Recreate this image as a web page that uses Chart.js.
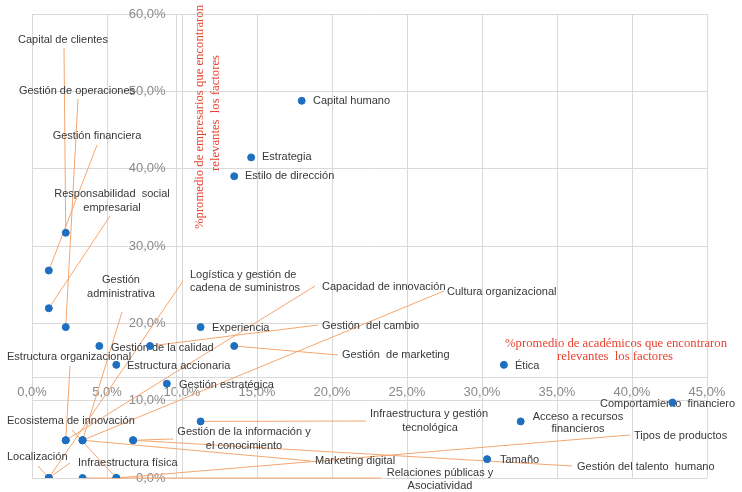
<!DOCTYPE html>
<html><head><meta charset="utf-8">
<style>html,body{margin:0;padding:0;background:#fff}canvas{display:block}</style>
<script src="https://cdn.jsdelivr.net/npm/chart.js@4.4.1/dist/chart.umd.min.js"></script>
</head><body>
<canvas id="c" width="742" height="492"></canvas>
<script>
// ---- DATA ----
const factors = [
  'Capital humano','Estrategia','Estilo de dirección','Capital de clientes','Gestión financiera',
  'Responsabilidad social empresarial','Gestión de operaciones','Experiencia','Gestión de la calidad',
  'Gestión del cambio','Gestión de marketing','Estructura accionaria','Ética','Gestión estratégica',
  'Comportamiento financiero','Infraestructura y gestión tecnológica','Acceso a recursos financieros',
  'Capacidad de innovación','Estructura organizacional','Gestión administrativa','Cultura organizacional',
  'Marketing digital','Gestión de la información y el conocimiento','Gestión del talento humano','Tamaño',
  'Logística y gestión de cadena de suministros','Localización','Infraestructura física',
  'Relaciones públicas y Asociatividad','Tipos de productos','Ecosistema de innovación'
];
// % promedio de académicos (eje X)
const academicos = [
  17.98, 14.61, 13.48, 2.25, 1.12,
  1.12, 2.25, 11.24, 4.49,
  7.87, 13.48, 5.62, 31.46, 8.99,
  42.70, 11.24, 32.58,
  2.25, 2.25, 3.37, 3.37,
  3.37, 6.74, 6.74, 30.34,
  1.12, 1.12, 1.12,
  3.37, 5.62, 5.62
];
// % promedio de empresarios (eje Y)
const empresarios = [
  48.78, 41.46, 39.02, 31.71, 26.83,
  21.95, 19.51, 19.51, 17.07,
  17.07, 17.07, 14.63, 14.63, 12.20,
  9.76, 7.32, 7.32,
  4.88, 4.88, 4.88, 4.88,
  4.88, 4.88, 4.88, 2.44,
  0, 0, 0,
  0, 0, 0
];
const xTicks = [0, 5, 10, 15, 20, 25, 30, 35, 40, 45];
const yTicks = [0, 10, 20, 30, 40, 50, 60];
const xTitle = ['%promedio de académicos que encontraron', 'relevantes  los factores'];
const yTitle = ['%promedio de empresarios que encontraron', 'relevantes  los factores'];

// axes cross at the averages
const meanX = academicos.reduce((a, b) => a + b, 0) / academicos.length;
const meanY = empresarios.reduce((a, b) => a + b, 0) / empresarios.length;

// ---- LABEL LAYOUT (pixel placement of annotation text and leader ends) ----
const labelLayout = {
  'Capital humano': {lines:['Capital humano'], at:[[313,101]], align:'left'},
  'Estrategia': {lines:['Estrategia'], at:[[262,157]], align:'left'},
  'Estilo de dirección': {lines:['Estilo de dirección'], at:[[245,176]], align:'left'},
  'Capital de clientes': {lines:['Capital de clientes'], at:[[63,40]], align:'center', lead:[64,48]},
  'Gestión de operaciones': {lines:['Gestión de operaciones'], at:[[77,91]], align:'center', lead:[78,99]},
  'Gestión financiera': {lines:['Gestión financiera'], at:[[97,136]], align:'center', lead:[97,145]},
  'Responsabilidad social empresarial': {lines:['Responsabilidad  social','empresarial'], at:[[112,194],[112,208]], align:'center', lead:[110,216]},
  'Gestión administrativa': {lines:['Gestión','administrativa'], at:[[121,280],[121,294]], align:'center', lead:[122,312]},
  'Logística y gestión de cadena de suministros': {lines:['Logística y gestión de','cadena de suministros'], at:[[190,275],[190,288]], align:'left', lead:[183,281]},
  'Capacidad de innovación': {lines:['Capacidad de innovación'], at:[[322,287]], align:'left', lead:[315,286]},
  'Cultura organizacional': {lines:['Cultura organizacional'], at:[[447,292]], align:'left', lead:[444,291]},
  'Experiencia': {lines:['Experiencia'], at:[[212,328]], align:'left'},
  'Gestión de la calidad': {lines:['Gestión de la calidad'], at:[[111,348]], align:'left'},
  'Gestión del cambio': {lines:['Gestión  del cambio'], at:[[322,326]], align:'left', lead:[318,325]},
  'Gestión de marketing': {lines:['Gestión  de marketing'], at:[[342,355]], align:'left', lead:[338,355]},
  'Estructura organizacional': {lines:['Estructura organizacional'], at:[[7,357]], align:'left', lead:[70,366]},
  'Estructura accionaria': {lines:['Estructura accionaria'], at:[[127,366]], align:'left'},
  'Ética': {lines:['Ética'], at:[[515,366]], align:'left'},
  'Gestión estratégica': {lines:['Gestión estratégica'], at:[[179,385]], align:'left'},
  'Ecosistema de innovación': {lines:['Ecosistema de innovación'], at:[[7,421]], align:'left', lead:[72,430]},
  'Comportamiento financiero': {lines:['Comportamiento  financiero'], at:[[600,404]], align:'left'},
  'Infraestructura y gestión tecnológica': {lines:['Infraestructura y gestión','tecnológica'], at:[[429,414],[430,428]], align:'center', lead:[366,421]},
  'Acceso a recursos financieros': {lines:['Acceso a recursos','financieros'], at:[[578,417],[578,429]], align:'center'},
  'Gestión de la información y el conocimiento': {lines:['Gestión de la información y','el conocimiento'], at:[[244,432],[244,446]], align:'center', lead:[173,439]},
  'Tipos de productos': {lines:['Tipos de productos'], at:[[634,436]], align:'left', lead:[630,435]},
  'Localización': {lines:['Localización'], at:[[7,457]], align:'left', lead:[38,466]},
  'Infraestructura física': {lines:['Infraestructura física'], at:[[78,463]], align:'left', lead:[70,463]},
  'Marketing digital': {lines:['Marketing digital'], at:[[315,461]], align:'left', lead:[311,461]},
  'Tamaño': {lines:['Tamaño'], at:[[500,460]], align:'left'},
  'Gestión del talento humano': {lines:['Gestión del talento  humano'], at:[[577,467]], align:'left', lead:[572,466]},
  'Relaciones públicas y Asociatividad': {lines:['Relaciones públicas y','Asociatividad'], at:[[440,473],[440,486]], align:'center', lead:[381,478]}
};

const fmt = v => Number(v).toFixed(1).replace('.', ',') + '%';
const tickFont = '13px "Liberation Sans", Arial, sans-serif';
const tickColor = '#8a8a8a';

const annot = {
  id: 'annot',
  beforeDatasetsDraw(chart) {
    const ctx = chart.ctx, xs = chart.scales.x, ys = chart.scales.y;
    ctx.save();
    // y tick labels, right-aligned left of the crossing y axis
    const axisX = xs.getPixelForValue(meanX);
    ctx.fillStyle = tickColor;
    ctx.font = tickFont;
    ctx.textAlign = 'right';
    ctx.textBaseline = 'middle';
    yTicks.forEach(v => ctx.fillText(fmt(v), axisX - 11, ys.getPixelForValue(v)));
    // leader lines
    ctx.strokeStyle = '#f5a56e';
    ctx.lineWidth = 1;
    factors.forEach((f, i) => {
      const L = labelLayout[f];
      if (!L || !L.lead) return;
      const px = xs.getPixelForValue(academicos[i]);
      const py = ys.getPixelForValue(empresarios[i]);
      ctx.beginPath();
      ctx.moveTo(px, py);
      ctx.lineTo(L.lead[0], L.lead[1]);
      ctx.stroke();
    });
    // point labels
    ctx.fillStyle = '#383838';
    ctx.font = '11px "Liberation Sans", Arial, sans-serif';
    factors.forEach(f => {
      const L = labelLayout[f];
      if (!L) return;
      ctx.textAlign = L.align;
      L.lines.forEach((t, k) => ctx.fillText(t, L.at[k][0], L.at[k][1]));
    });
    // axis titles
    ctx.fillStyle = '#e8432f';
    ctx.font = '12.7px "Liberation Serif", "Times New Roman", serif';
    ctx.textAlign = 'center';
    ctx.fillText(xTitle[0], 616, 344);
    ctx.fillText(xTitle[1], 615, 357);
    ctx.save();
    ctx.translate(200, 117);
    ctx.rotate(-Math.PI / 2);
    ctx.fillText(yTitle[0], 0, 0);
    ctx.fillText(yTitle[1], 4, 16);
    ctx.restore();
    ctx.restore();
  }
};

new Chart(document.getElementById('c'), {
  type: 'scatter',
  data: {
    datasets: [{
      data: factors.map((f, i) => ({x: academicos[i], y: empresarios[i]})),
      backgroundColor: '#1f6fc0',
      borderColor: '#1f6fc0',
      pointRadius: 3.5,
      pointHoverRadius: 3.5
    }]
  },
  options: {
    responsive: false,
    animation: false,
    devicePixelRatio: 1,
    layout: {padding: {left: 32, top: 14, right: 35, bottom: 14}},
    plugins: {legend: {display: false}, tooltip: {enabled: false}},
    scales: {
      x: {
        type: 'linear', min: xTicks[0], max: xTicks[xTicks.length - 1],
        position: {y: meanY},
        afterFit: s => { s.height = 0; },
        afterBuildTicks: s => { s.ticks = xTicks.map(v => ({value: v})); },
        ticks: {color: tickColor, font: {family: '"Liberation Sans", Arial', size: 13}, padding: 7,
                callback: fmt, maxRotation: 0, autoSkip: false},
        grid: {color: '#d9d9d9', lineWidth: 1, drawTicks: false},
        border: {color: '#d9d9d9'}
      },
      y: {
        type: 'linear', min: yTicks[0], max: yTicks[yTicks.length - 1],
        position: {x: meanX},
        afterFit: s => { s.width = 0; },
        afterBuildTicks: s => { s.ticks = yTicks.map(v => ({value: v})); },
        ticks: {display: false},
        grid: {color: '#d9d9d9', lineWidth: 1, drawTicks: false},
        border: {color: '#d9d9d9'}
      }
    }
  },
  plugins: [annot]
});
</script>
</body></html>
